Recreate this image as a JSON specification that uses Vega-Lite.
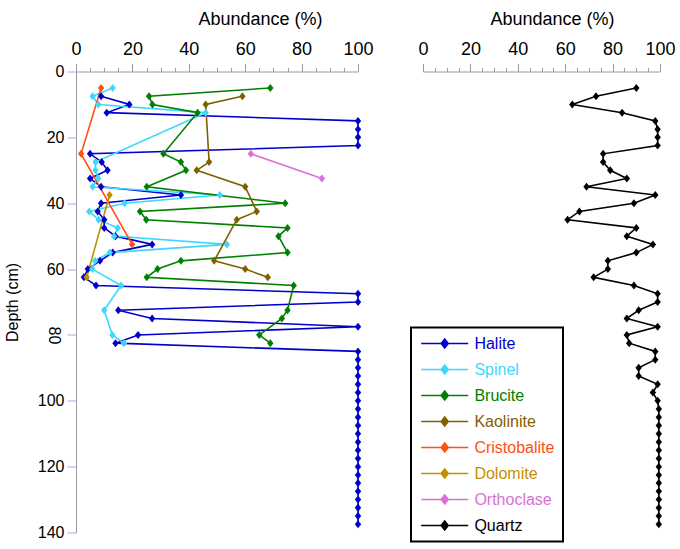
{
  "$schema": "https://vega.github.io/schema/vega-lite/v6.json",
  "padding": {"left": 4, "top": 10.5, "right": 5, "bottom": 5},
  "background": "white",
  "config": {
    "view": {"stroke": null},
    "font": "Liberation Sans",
    "axis": {"grid": false, "labelFont": "Liberation Sans", "titleFont": "Liberation Sans", "labelColor": "black", "titleColor": "black", "titleFontWeight": "normal"},
    "legend": {"labelFont": "Liberation Sans", "strokeWidth": 2}
  },
  "datasets": {
    "minerals": [
      {"mineral": "Halite", "depth": 7.5, "abundance": 8.9},
      {"mineral": "Halite", "depth": 10, "abundance": 18.9},
      {"mineral": "Halite", "depth": 12.5, "abundance": 10.9},
      {"mineral": "Halite", "depth": 15, "abundance": 100},
      {"mineral": "Halite", "depth": 17.5, "abundance": 100},
      {"mineral": "Halite", "depth": 20, "abundance": 100},
      {"mineral": "Halite", "depth": 22.5, "abundance": 100},
      {"mineral": "Halite", "depth": 25, "abundance": 5},
      {"mineral": "Halite", "depth": 27.5, "abundance": 9.1},
      {"mineral": "Halite", "depth": 30, "abundance": 11.2},
      {"mineral": "Halite", "depth": 32.5, "abundance": 5},
      {"mineral": "Halite", "depth": 35, "abundance": 8.9},
      {"mineral": "Halite", "depth": 37.5, "abundance": 37.2},
      {"mineral": "Halite", "depth": 40, "abundance": 8.9},
      {"mineral": "Halite", "depth": 42.5, "abundance": 7.7},
      {"mineral": "Halite", "depth": 45, "abundance": 10},
      {"mineral": "Halite", "depth": 47.5, "abundance": 10},
      {"mineral": "Halite", "depth": 50, "abundance": 14},
      {"mineral": "Halite", "depth": 52.5, "abundance": 27},
      {"mineral": "Halite", "depth": 55, "abundance": 13},
      {"mineral": "Halite", "depth": 57.5, "abundance": 8.5},
      {"mineral": "Halite", "depth": 60, "abundance": 4.2},
      {"mineral": "Halite", "depth": 62.5, "abundance": 2.8},
      {"mineral": "Halite", "depth": 65, "abundance": 7.1},
      {"mineral": "Halite", "depth": 67.5, "abundance": 100},
      {"mineral": "Halite", "depth": 70, "abundance": 100},
      {"mineral": "Halite", "depth": 72.5, "abundance": 15},
      {"mineral": "Halite", "depth": 75, "abundance": 27},
      {"mineral": "Halite", "depth": 77.5, "abundance": 100},
      {"mineral": "Halite", "depth": 80, "abundance": 22},
      {"mineral": "Halite", "depth": 82.5, "abundance": 14},
      {"mineral": "Halite", "depth": 85, "abundance": 100},
      {"mineral": "Halite", "depth": 87.5, "abundance": 100},
      {"mineral": "Halite", "depth": 90, "abundance": 100},
      {"mineral": "Halite", "depth": 92.5, "abundance": 100},
      {"mineral": "Halite", "depth": 95, "abundance": 100},
      {"mineral": "Halite", "depth": 97.5, "abundance": 100},
      {"mineral": "Halite", "depth": 100, "abundance": 100},
      {"mineral": "Halite", "depth": 102.5, "abundance": 100},
      {"mineral": "Halite", "depth": 105, "abundance": 100},
      {"mineral": "Halite", "depth": 107.5, "abundance": 100},
      {"mineral": "Halite", "depth": 110, "abundance": 100},
      {"mineral": "Halite", "depth": 112.5, "abundance": 100},
      {"mineral": "Halite", "depth": 115, "abundance": 100},
      {"mineral": "Halite", "depth": 117.5, "abundance": 100},
      {"mineral": "Halite", "depth": 120, "abundance": 100},
      {"mineral": "Halite", "depth": 122.5, "abundance": 100},
      {"mineral": "Halite", "depth": 125, "abundance": 100},
      {"mineral": "Halite", "depth": 127.5, "abundance": 100},
      {"mineral": "Halite", "depth": 130, "abundance": 100},
      {"mineral": "Halite", "depth": 132.5, "abundance": 100},
      {"mineral": "Halite", "depth": 135, "abundance": 100},
      {"mineral": "Halite", "depth": 137.5, "abundance": 100},
      {"mineral": "Spinel", "depth": 5, "abundance": 13},
      {"mineral": "Spinel", "depth": 7.5, "abundance": 5.9},
      {"mineral": "Spinel", "depth": 10, "abundance": 7.9},
      {"mineral": "Spinel", "depth": 12.5, "abundance": 46},
      {"mineral": "Spinel", "depth": 27.5, "abundance": 6.9},
      {"mineral": "Spinel", "depth": 30, "abundance": 6.9},
      {"mineral": "Spinel", "depth": 32.5, "abundance": 7.9},
      {"mineral": "Spinel", "depth": 35, "abundance": 5.9},
      {"mineral": "Spinel", "depth": 37.5, "abundance": 51},
      {"mineral": "Spinel", "depth": 40, "abundance": 17.2},
      {"mineral": "Spinel", "depth": 42.5, "abundance": 4.7},
      {"mineral": "Spinel", "depth": 45, "abundance": 8},
      {"mineral": "Spinel", "depth": 47.5, "abundance": 14.8},
      {"mineral": "Spinel", "depth": 50, "abundance": 13.5},
      {"mineral": "Spinel", "depth": 52.5, "abundance": 53.5},
      {"mineral": "Spinel", "depth": 55, "abundance": 12},
      {"mineral": "Spinel", "depth": 57.5, "abundance": 6.8},
      {"mineral": "Spinel", "depth": 60, "abundance": 5.8},
      {"mineral": "Spinel", "depth": 65, "abundance": 16},
      {"mineral": "Spinel", "depth": 72.5, "abundance": 10},
      {"mineral": "Spinel", "depth": 80, "abundance": 12.9},
      {"mineral": "Spinel", "depth": 82.5, "abundance": 17},
      {"mineral": "Brucite", "depth": 5, "abundance": 68.9},
      {"mineral": "Brucite", "depth": 7.5, "abundance": 25.9},
      {"mineral": "Brucite", "depth": 10, "abundance": 27.1},
      {"mineral": "Brucite", "depth": 12.5, "abundance": 43.1},
      {"mineral": "Brucite", "depth": 25, "abundance": 31},
      {"mineral": "Brucite", "depth": 27.5, "abundance": 37.2},
      {"mineral": "Brucite", "depth": 30, "abundance": 39},
      {"mineral": "Brucite", "depth": 35, "abundance": 25.1},
      {"mineral": "Brucite", "depth": 40, "abundance": 74.2},
      {"mineral": "Brucite", "depth": 42.5, "abundance": 22.7},
      {"mineral": "Brucite", "depth": 45, "abundance": 24.9},
      {"mineral": "Brucite", "depth": 47.5, "abundance": 75},
      {"mineral": "Brucite", "depth": 50, "abundance": 71.8},
      {"mineral": "Brucite", "depth": 55, "abundance": 75},
      {"mineral": "Brucite", "depth": 57.5, "abundance": 37.2},
      {"mineral": "Brucite", "depth": 60, "abundance": 28.9},
      {"mineral": "Brucite", "depth": 62.5, "abundance": 25.1},
      {"mineral": "Brucite", "depth": 65, "abundance": 77.2},
      {"mineral": "Brucite", "depth": 72.5, "abundance": 75},
      {"mineral": "Brucite", "depth": 75, "abundance": 73},
      {"mineral": "Brucite", "depth": 80, "abundance": 65},
      {"mineral": "Brucite", "depth": 82.5, "abundance": 68.9},
      {"mineral": "Kaolinite", "depth": 7.5, "abundance": 59},
      {"mineral": "Kaolinite", "depth": 10, "abundance": 46},
      {"mineral": "Kaolinite", "depth": 27.5, "abundance": 47.2},
      {"mineral": "Kaolinite", "depth": 30, "abundance": 42.8},
      {"mineral": "Kaolinite", "depth": 35, "abundance": 60},
      {"mineral": "Kaolinite", "depth": 42.5, "abundance": 64.1},
      {"mineral": "Kaolinite", "depth": 45, "abundance": 57},
      {"mineral": "Kaolinite", "depth": 57.5, "abundance": 49},
      {"mineral": "Kaolinite", "depth": 60, "abundance": 60},
      {"mineral": "Kaolinite", "depth": 62.5, "abundance": 68},
      {"mineral": "Cristobalite", "depth": 5, "abundance": 8.9},
      {"mineral": "Cristobalite", "depth": 25, "abundance": 1.8},
      {"mineral": "Cristobalite", "depth": 52.5, "abundance": 19.9},
      {"mineral": "Dolomite", "depth": 37.5, "abundance": 11.9},
      {"mineral": "Dolomite", "depth": 62.5, "abundance": 3.8},
      {"mineral": "Orthoclase", "depth": 25, "abundance": 62},
      {"mineral": "Orthoclase", "depth": 32.5, "abundance": 87.2}
    ],
    "quartz": [
      {"mineral": "Quartz", "depth": 5, "abundance": 90},
      {"mineral": "Quartz", "depth": 7.5, "abundance": 73},
      {"mineral": "Quartz", "depth": 10, "abundance": 63},
      {"mineral": "Quartz", "depth": 12.5, "abundance": 84},
      {"mineral": "Quartz", "depth": 15, "abundance": 98},
      {"mineral": "Quartz", "depth": 17.5, "abundance": 99},
      {"mineral": "Quartz", "depth": 20, "abundance": 99},
      {"mineral": "Quartz", "depth": 22.5, "abundance": 99},
      {"mineral": "Quartz", "depth": 25, "abundance": 76},
      {"mineral": "Quartz", "depth": 27.5, "abundance": 76},
      {"mineral": "Quartz", "depth": 30, "abundance": 79},
      {"mineral": "Quartz", "depth": 32.5, "abundance": 86},
      {"mineral": "Quartz", "depth": 35, "abundance": 69},
      {"mineral": "Quartz", "depth": 37.5, "abundance": 98},
      {"mineral": "Quartz", "depth": 40, "abundance": 89},
      {"mineral": "Quartz", "depth": 42.5, "abundance": 66},
      {"mineral": "Quartz", "depth": 45, "abundance": 61},
      {"mineral": "Quartz", "depth": 47.5, "abundance": 90},
      {"mineral": "Quartz", "depth": 50, "abundance": 86},
      {"mineral": "Quartz", "depth": 52.5, "abundance": 97},
      {"mineral": "Quartz", "depth": 55, "abundance": 90},
      {"mineral": "Quartz", "depth": 57.5, "abundance": 78},
      {"mineral": "Quartz", "depth": 60, "abundance": 78},
      {"mineral": "Quartz", "depth": 62.5, "abundance": 72},
      {"mineral": "Quartz", "depth": 65, "abundance": 89},
      {"mineral": "Quartz", "depth": 67.5, "abundance": 99},
      {"mineral": "Quartz", "depth": 70, "abundance": 99},
      {"mineral": "Quartz", "depth": 72.5, "abundance": 91},
      {"mineral": "Quartz", "depth": 75, "abundance": 86},
      {"mineral": "Quartz", "depth": 77.5, "abundance": 99},
      {"mineral": "Quartz", "depth": 80, "abundance": 86},
      {"mineral": "Quartz", "depth": 82.5, "abundance": 87},
      {"mineral": "Quartz", "depth": 85, "abundance": 98},
      {"mineral": "Quartz", "depth": 87.5, "abundance": 98},
      {"mineral": "Quartz", "depth": 90, "abundance": 91},
      {"mineral": "Quartz", "depth": 92.5, "abundance": 91},
      {"mineral": "Quartz", "depth": 95, "abundance": 99},
      {"mineral": "Quartz", "depth": 97.5, "abundance": 97},
      {"mineral": "Quartz", "depth": 100, "abundance": 99},
      {"mineral": "Quartz", "depth": 102.5, "abundance": 99.5},
      {"mineral": "Quartz", "depth": 105, "abundance": 99.5},
      {"mineral": "Quartz", "depth": 107.5, "abundance": 99.5},
      {"mineral": "Quartz", "depth": 110, "abundance": 99.5},
      {"mineral": "Quartz", "depth": 112.5, "abundance": 99.5},
      {"mineral": "Quartz", "depth": 115, "abundance": 99.5},
      {"mineral": "Quartz", "depth": 117.5, "abundance": 99.5},
      {"mineral": "Quartz", "depth": 120, "abundance": 99.5},
      {"mineral": "Quartz", "depth": 122.5, "abundance": 99.5},
      {"mineral": "Quartz", "depth": 125, "abundance": 99.5},
      {"mineral": "Quartz", "depth": 127.5, "abundance": 99.5},
      {"mineral": "Quartz", "depth": 130, "abundance": 99.5},
      {"mineral": "Quartz", "depth": 132.5, "abundance": 99.5},
      {"mineral": "Quartz", "depth": 135, "abundance": 99.5},
      {"mineral": "Quartz", "depth": 137.5, "abundance": 99.5}
    ]
  },
  "bounds": "flush",
  "spacing": 65,
  "resolve": {"scale": {"color": "shared"}, "legend": {"color": "shared"}},
  "hconcat": [
    {
      "width": 282,
      "height": 461,
      "data": {"name": "minerals"},
      "mark": {"type": "line", "strokeWidth": 1.6, "point": {"shape": "M0,-1L0.8,0L0,1L-0.8,0Z", "filled": true, "size": 64}},
      "encoding": {
        "x": {
          "field": "abundance", "type": "quantitative",
          "scale": {"domain": [0, 100], "nice": false},
          "axis": {
            "orient": "top", "title": "Abundance (%)", "titleX": 184,
            "values": [0, 5, 10, 15, 20, 25, 30, 35, 40, 45, 50, 55, 60, 65, 70, 75, 80, 85, 90, 95, 100],
            "labelExpr": "datum.value % 20 === 0 ? datum.label : ''",
            "labelOverlap": false, "labelFlush": false,
            "tickSize": {"condition": {"test": "datum.value % 20 === 0", "value": 8}, "value": 4},
            "tickColor": "#999999", "domainColor": "#999999",
            "labelFontSize": 18, "titleFontSize": 18,
            "labelPadding": 5, "titlePadding": 12
          }
        },
        "y": {
          "field": "depth", "type": "quantitative",
          "scale": {"domain": [0, 140], "reverse": true, "nice": false},
          "axis": {
            "title": "Depth (cm)", "values": [0, 20, 40, 60, 80, 100, 120, 140],
            "tickSize": 9, "tickColor": "#A9A9E8", "domainColor": "#999999",
            "labelFontSize": 16, "titleFontSize": 16,
            "labelPadding": 3, "titlePadding": 16.5,
            "encoding": {"labels": {
              "angle": {"condition": {"test": "datum.value === 80", "value": 90}, "value": 0},
              "align": {"condition": {"test": "datum.value === 80", "value": "center"}, "value": "right"},
              "baseline": {"condition": {"test": "datum.value === 80", "value": "middle"}, "value": "middle"},
              "dy": {"condition": {"test": "datum.value === 80", "value": 11}, "value": 0}
            }}
          }
        },
        "order": {"field": "depth", "type": "quantitative"},
        "color": {
          "field": "mineral", "type": "nominal",
          "scale": {
            "domain": ["Halite", "Spinel", "Brucite", "Kaolinite", "Cristobalite", "Dolomite", "Orthoclase", "Quartz"],
            "range": ["#0000CC", "#3FD7FF", "#008000", "#7F6000", "#FF5010", "#BF9000", "#DA70D6", "#000000"]
          },
          "legend": {
            "title": null, "orient": "none", "legendX": 335, "legendY": 256,
            "symbolType": "M-3.36,0L3.36,0M0,-0.64L0.5,0L0,0.64L-0.5,0Z",
            "symbolSize": 196, "symbolStrokeWidth": 1.6,
            "symbolOffset": 17.7, "labelOffset": 21.7,
            "labelFontSize": 16, "rowPadding": 10,
            "padding": 8, "strokeColor": "black", "fillColor": "white",
            "encoding": {
              "symbols": {
                "fill": {"condition": [
                  {"test": "datum.value === 'Halite'", "value": "#0000CC"},
                  {"test": "datum.value === 'Spinel'", "value": "#3FD7FF"},
                  {"test": "datum.value === 'Brucite'", "value": "#008000"},
                  {"test": "datum.value === 'Kaolinite'", "value": "#7F6000"},
                  {"test": "datum.value === 'Cristobalite'", "value": "#FF5010"},
                  {"test": "datum.value === 'Dolomite'", "value": "#BF9000"},
                  {"test": "datum.value === 'Orthoclase'", "value": "#DA70D6"}
                ], "value": "#000000"}
              },
              "labels": {
                "fill": {"condition": [
                  {"test": "datum.value === 'Halite'", "value": "#0000CC"},
                  {"test": "datum.value === 'Spinel'", "value": "#3FD7FF"},
                  {"test": "datum.value === 'Brucite'", "value": "#008000"},
                  {"test": "datum.value === 'Kaolinite'", "value": "#7F6000"},
                  {"test": "datum.value === 'Cristobalite'", "value": "#FF5010"},
                  {"test": "datum.value === 'Dolomite'", "value": "#BF9000"},
                  {"test": "datum.value === 'Orthoclase'", "value": "#DA70D6"}
                ], "value": "#000000"}
              }
            }
          }
        }
      }
    },
    {
      "width": 237,
      "height": 461,
      "data": {"name": "quartz"},
      "mark": {"type": "line", "strokeWidth": 1.6, "point": {"shape": "M0,-1L0.8,0L0,1L-0.8,0Z", "filled": true, "size": 64}},
      "encoding": {
        "x": {
          "field": "abundance", "type": "quantitative",
          "scale": {"domain": [0, 100], "nice": false},
          "axis": {
            "orient": "top", "title": "Abundance (%)", "titleX": 129,
            "values": [0, 5, 10, 15, 20, 25, 30, 35, 40, 45, 50, 55, 60, 65, 70, 75, 80, 85, 90, 95, 100],
            "labelExpr": "datum.value % 20 === 0 ? datum.label : ''",
            "labelOverlap": false, "labelFlush": false,
            "tickSize": {"condition": {"test": "datum.value % 20 === 0", "value": 8}, "value": 4},
            "tickColor": "#999999", "domainColor": "#999999",
            "labelFontSize": 18, "titleFontSize": 18,
            "labelPadding": 5, "titlePadding": 12
          }
        },
        "y": {
          "field": "depth", "type": "quantitative",
          "scale": {"domain": [0, 140], "reverse": true, "nice": false},
          "axis": null
        },
        "order": {"field": "depth", "type": "quantitative"},
        "color": {
          "field": "mineral", "type": "nominal",
          "scale": {
            "domain": ["Halite", "Spinel", "Brucite", "Kaolinite", "Cristobalite", "Dolomite", "Orthoclase", "Quartz"],
            "range": ["#0000CC", "#3FD7FF", "#008000", "#7F6000", "#FF5010", "#BF9000", "#DA70D6", "#000000"]
          }
        }
      }
    }
  ]
}
